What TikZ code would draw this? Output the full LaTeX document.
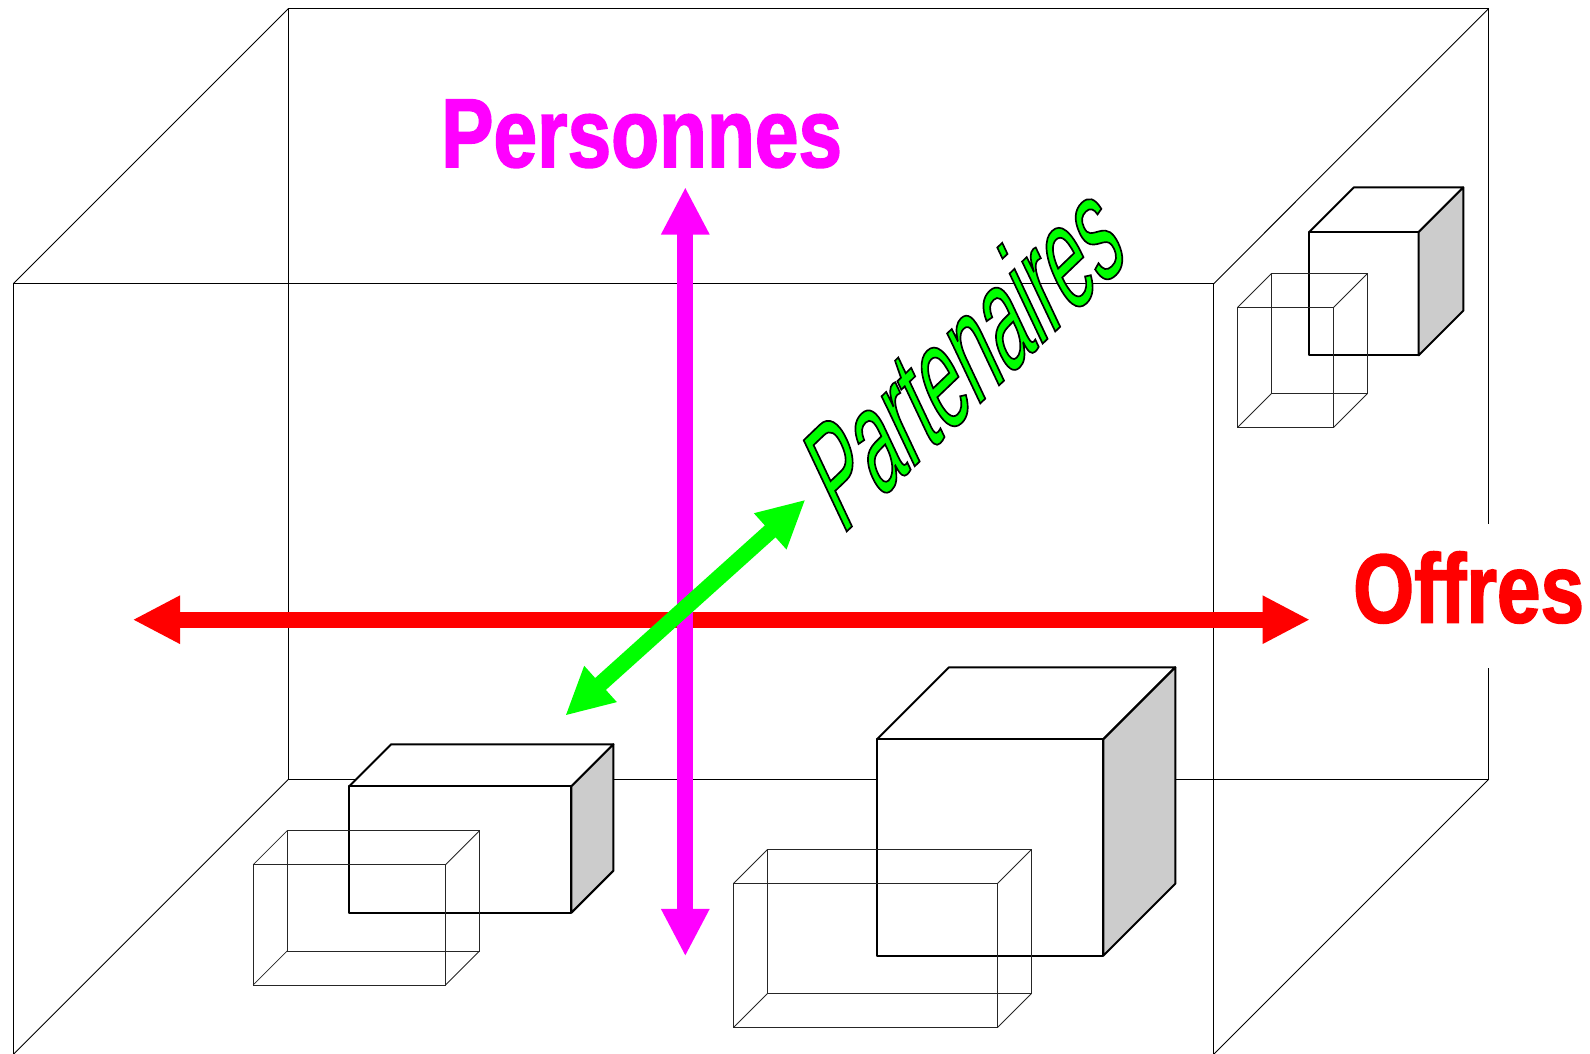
\documentclass[tikz,border=0pt]{standalone}
\usepackage{fontspec}
\usetikzlibrary{arrows.meta}
\setmainfont{Liberation Sans}
\newfontfamily\axisfont[FakeStretch=0.8,FakeBold=1.6]{Liberation Sans Bold}
\newfontfamily\partfont[FakeStretch=0.56,FakeSlant=0.335,FakeBold=1.2]{Liberation Sans}
\definecolor{persColor}{RGB}{255,0,255}
\definecolor{offreColor}{RGB}{255,0,0}
\definecolor{partColor}{RGB}{0,255,0}
\definecolor{sideColor}{RGB}{204,204,204}
\tikzset{
  RoomStyle/.style = { line width=0.9pt, black },
  SolidStyle/.style = { line width=2pt, black, line join=round },
  WireStyle/.style = { line width=0.8pt, black!85 },
  AxeStyle/.style = { line width=16pt,
                      {Triangle[length=47.5pt,width=45pt]}-{Triangle[length=47.5pt,width=45pt]} },
  LabelStyle/.style = { inner sep=0pt, anchor=base west,
                        font = \axisfont\fontsize{98pt}{98pt}\selectfont } }
% x y w h d
\newcommand\solidcube[5]{
  \draw[SolidStyle,fill=white] (#1,#2) -- ++(#5,-#5) -- ++(#3,0) -- ++(-#5,#5) -- cycle;
  \draw[SolidStyle,fill=white] (#1,#2) rectangle ++(#3,#4);
  \draw[SolidStyle,fill=sideColor] (#1+#3,#2) -- ++(#5,-#5) -- ++(0,#4) -- ++(-#5,#5) -- cycle;
}
\newcommand\wirecube[5]{
  \draw[WireStyle] (#1,#2) rectangle ++(#3,#4);
  \draw[WireStyle] (#1+#5,#2-#5) rectangle ++(#3,#4);
  \draw[WireStyle] (#1,#2) -- ++(#5,-#5);
  \draw[WireStyle] (#1+#3,#2) -- ++(#5,-#5);
  \draw[WireStyle] (#1,#2+#4) -- ++(#5,-#5);
  \draw[WireStyle] (#1+#3,#2+#4) -- ++(#5,-#5);
}
\begin{document}
\begin{tikzpicture}[x=1pt,y=-1pt]
  \useasboundingbox (0,0) rectangle (1590,1053);

  % room
  \draw[RoomStyle] (288.4,8.5) rectangle (1488.7,779.3);
  \draw[RoomStyle] (13.4,283.7) rectangle (1213.7,1054.3);
  \draw[RoomStyle] (13.4,283.7) -- (288.4,8.5);
  \draw[RoomStyle] (1213.7,283.7) -- (1488.7,8.5);
  \draw[RoomStyle] (288.4,779.3) -- (13.4,1054.3);
  \draw[RoomStyle] (1488.7,779.3) -- (1213.7,1054.3);

  % boxes
  \solidcube{349.1}{786.3}{222.3}{126.4}{42}
  \solidcube{1309.3}{232}{109.4}{123.3}{44.6}
  \solidcube{877}{739.3}{226.3}{216.4}{72}
  \wirecube{253.1}{864.7}{192.4}{120.3}{34}
  \wirecube{1237.7}{307.3}{96}{120}{33.7}
  \wirecube{733.3}{883.7}{264}{144}{34}

  % axes
  \coordinate (OW) at (132.6,619.7);
  \coordinate (OE) at (1310,619.7);
  \coordinate (PN) at (685.3,187);
  \coordinate (PS) at (685.3,956.4);
  \coordinate (PaN) at (805.5,499.6);
  \coordinate (PaS) at (565.2,715.7);
  \draw[AxeStyle, offreColor] (OW) -- (OE);
  \draw[AxeStyle, persColor] (PN) -- (PS);
  \draw[AxeStyle, partColor] (PaS) -- (PaN);

  % labels
  \node[LabelStyle, text=persColor](PERS) at (441,167){Personnes};
  \node[LabelStyle, text=offreColor, fill=white, text height=99pt, text depth=45.5pt](OFFRES) at (1353,622.5){Offres};
  \node[inner sep=0pt, anchor=base west, rotate=43.8,
        font=\partfont\fontsize{139pt}{139pt}\selectfont](PART) at (842,536)
        {\color{partColor}\special{pdf:code 0 0 0 RG}Partenaires};
\end{tikzpicture}
\end{document}
